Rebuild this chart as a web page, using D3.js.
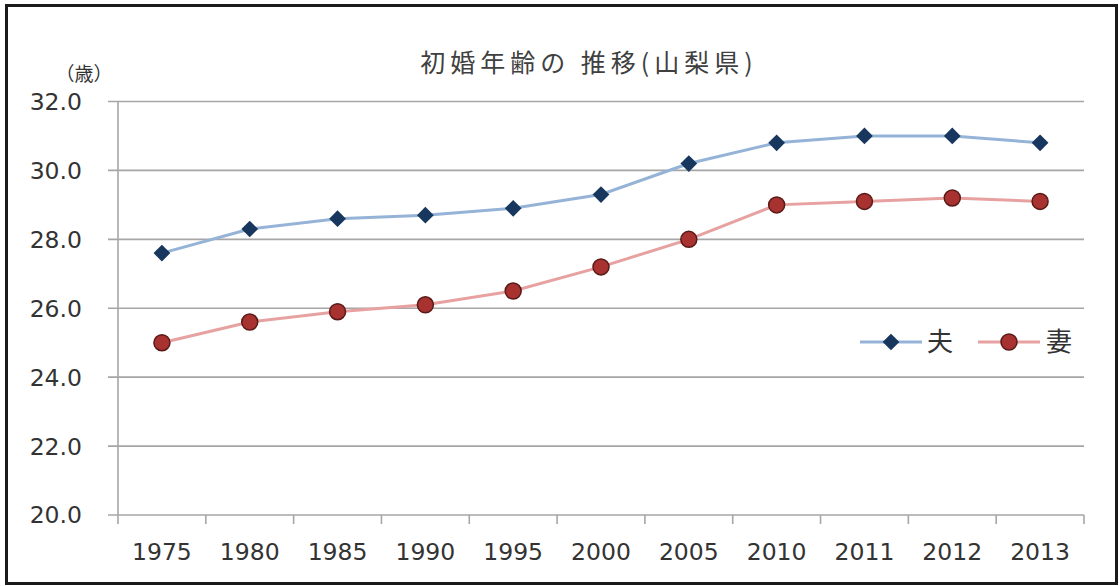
<!DOCTYPE html>
<html><head><meta charset="utf-8">
<script src="https://cdn.jsdelivr.net/npm/d3@7"></script>
<style>
body{margin:0;background:#fff;}
svg{display:block;}
</style></head>
<body>
<svg id="c" width="1119" height="586"></svg>
<script>
const categories = ["1975","1980","1985","1990","1995","2000","2005","2010","2011","2012","2013"];
const husband = [27.6,28.3,28.6,28.7,28.9,29.3,30.2,30.8,31.0,31.0,30.8];
const wife = [25.0,25.6,25.9,26.1,26.5,27.2,28.0,29.0,29.1,29.2,29.1];
const yTicks = [20,22,24,26,28,30,32];
const seriesNames = ["夫","妻"];
const title = "初婚年齢の 推移(山梨県)";
const unit = "（歳）";

(function(){
const svg = d3.select("#c");
const numFont = "'DejaVu Sans', sans-serif";
const jpFont = "'Noto Sans CJK JP', sans-serif";

svg.append("rect").attr("x",6.5).attr("y",5.5).attr("width",1110).attr("height",578)
  .attr("fill","#fff").attr("stroke","#1a1a1a").attr("stroke-width",3);

const pl=118, pr=1084, pt=101.5, pb=515;
const x = d3.scaleBand().domain(categories).range([pl,pr]);
const y = d3.scaleLinear().domain([20,32]).range([pb,pt]);

svg.append("g").selectAll("line").data(yTicks).join("line")
  .attr("x1",pl-10).attr("x2",pr)
  .attr("y1",d=>y(d)).attr("y2",d=>y(d))
  .attr("stroke","#a6a6a6").attr("stroke-width",1.6);

svg.append("line").attr("x1",pl).attr("x2",pl).attr("y1",pt).attr("y2",pb)
  .attr("stroke","#a6a6a6").attr("stroke-width",1.6);

const bounds = categories.map(c=>x(c)).concat([pr]);
svg.append("g").selectAll("line").data(bounds).join("line")
  .attr("x1",d=>d).attr("x2",d=>d).attr("y1",pb).attr("y2",pb+9)
  .attr("stroke","#a6a6a6").attr("stroke-width",1.6);

svg.append("g").selectAll("text").data(yTicks).join("text")
  .attr("x",82).attr("y",d=>y(d)).attr("dy","0.36em")
  .attr("text-anchor","end").attr("font-family",numFont).attr("font-size",23.5)
  .attr("fill","#333").text(d=>d.toFixed(1));

svg.append("g").selectAll("text").data(categories).join("text")
  .attr("x",d=>x(d)+x.bandwidth()/2).attr("y",560)
  .attr("text-anchor","middle").attr("font-family",numFont).attr("font-size",23.5)
  .attr("fill","#333").text(d=>d);

svg.append("text").attr("x",589).attr("y",72).attr("text-anchor","middle")
  .attr("font-family",jpFont).attr("font-size",25).attr("letter-spacing",5)
  .attr("fill","#404040").text(title);

svg.append("text").attr("x",84).attr("y",81).attr("text-anchor","middle")
  .attr("font-family",jpFont).attr("font-size",19).attr("fill","#333").text(unit);

const cx = d=>x(d)+x.bandwidth()/2;
const line = d3.line().x((d,i)=>cx(categories[i])).y(d=>y(d));

const hLine="#95b3d7", hMark="#17375e";
const wLine="#e6a1a0", wMark="#a8322f", wStroke="#5a1a18";

svg.append("path").datum(husband).attr("d",line).attr("fill","none")
  .attr("stroke",hLine).attr("stroke-width",3);
svg.append("path").datum(wife).attr("d",line).attr("fill","none")
  .attr("stroke",wLine).attr("stroke-width",3);

const diamond = d3.symbol().type(d3.symbolSquare).size(140);
svg.append("g").selectAll("path").data(husband).join("path")
  .attr("d",diamond())
  .attr("transform",(d,i)=>`translate(${cx(categories[i])},${y(d)}) rotate(45)`)
  .attr("fill",hMark);

svg.append("g").selectAll("circle").data(wife).join("circle")
  .attr("cx",(d,i)=>cx(categories[i])).attr("cy",d=>y(d)).attr("r",8)
  .attr("fill",wMark).attr("stroke",wStroke).attr("stroke-width",1.5);

const lg = svg.append("g");
const ly = 342;
lg.append("line").attr("x1",860).attr("x2",922).attr("y1",ly).attr("y2",ly).attr("stroke",hLine).attr("stroke-width",3);
lg.append("path").attr("d",diamond()).attr("transform",`translate(891,${ly}) rotate(45)`).attr("fill",hMark);
lg.append("text").attr("x",927).attr("y",ly).attr("dy","0.36em").attr("font-family",jpFont)
  .attr("font-size",26).attr("fill","#333").text(seriesNames[0]);
lg.append("line").attr("x1",978).attr("x2",1040).attr("y1",ly).attr("y2",ly).attr("stroke",wLine).attr("stroke-width",3);
lg.append("circle").attr("cx",1009).attr("cy",ly).attr("r",8).attr("fill",wMark).attr("stroke",wStroke).attr("stroke-width",1.5);
lg.append("text").attr("x",1046).attr("y",ly).attr("dy","0.36em").attr("font-family",jpFont)
  .attr("font-size",26).attr("fill","#333").text(seriesNames[1]);
})();
</script>
</body></html>
